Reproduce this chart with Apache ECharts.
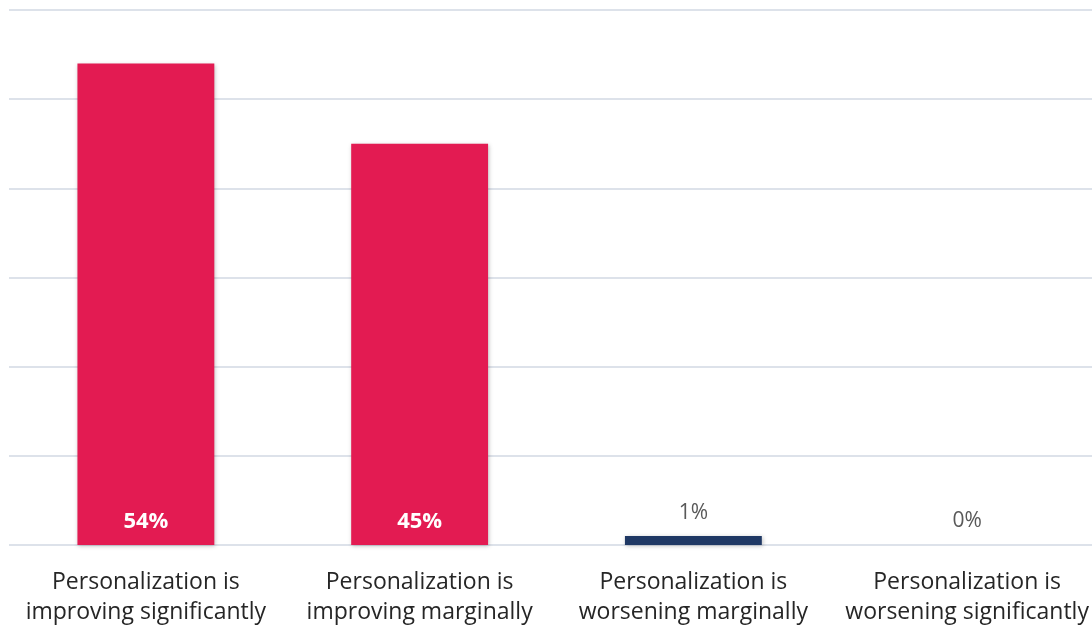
<!DOCTYPE html>
<html><head><meta charset="utf-8">
<script src="https://cdn.jsdelivr.net/npm/echarts@6/dist/echarts.min.js"></script>
<style>html,body{margin:0;padding:0;background:#fff;overflow:hidden;width:1092px;height:627px}#c{width:1104px;height:627px}</style>
</head><body><div id="c"></div>
<script>
const categories = ["Personalization is\nimproving significantly","Personalization is\nimproving marginally","Personalization is\nworsening marginally","Personalization is\nworsening significantly"];
const values = [54, 45, 1, 0];
const barColors = ["#e31b52","#e31b52","#1f3864","#f2f2f2"];
const yTicks = [0, 10, 20, 30, 40, 50, 60];

const chart = echarts.init(document.getElementById('c'));
const font = "'Open Sans', sans-serif";
chart.setOption({
  animation:false,
  grid:{left:9, top:10, right:0, bottom:79, containLabel:false},
  xAxis:{type:'category', data:categories,
    axisLine:{show:false}, axisTick:{show:false},
    axisLabel:{fontFamily:font, fontSize:23, color:'#262626', lineHeight:30, margin:22, interval:0}},
  yAxis:{type:'value', min:yTicks[0], max:yTicks[yTicks.length-1], interval:10,
    axisLabel:{show:false}, axisLine:{show:false}, axisTick:{show:false},
    splitLine:{lineStyle:{color:'#dde2ea', width:2}}},
  series:[{type:'bar', barWidth:'50%',
    data: values.map((v,i)=>{
      const inside = v >= 10;
      return {value:v, itemStyle:{color:barColors[i], shadowColor:'rgba(0,0,0,0.25)', shadowBlur:4, shadowOffsetX:1, shadowOffsetY:1},
        label:{show:true, position: inside ? 'insideBottom' : 'top', distance: inside ? 12 : 13,
          formatter: v + '%', fontFamily:font, fontSize: inside ? 22 : 21,
          fontWeight: inside ? 'bold' : 'normal', color: inside ? '#ffffff' : '#595959'}};
    })
  }]
});
</script></body></html>
